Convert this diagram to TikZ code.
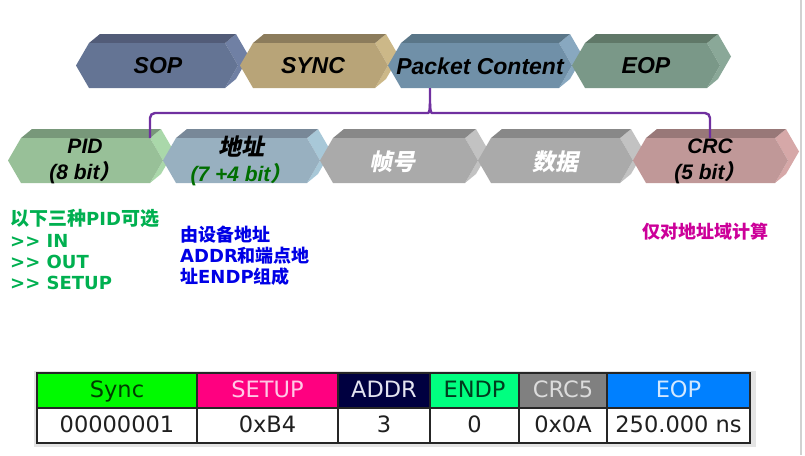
\documentclass[tikz,border=0pt]{standalone}
\usepackage{fontspec}
\setmainfont{Liberation Sans}
\newfontfamily\cjk{Noto Sans CJK SC}
\newfontfamily\cjkit{Noto Sans CJK SC}[FakeSlant=0.2]
\newfontfamily\verd{DejaVu Sans}
\usepackage{xcolor}
\usepackage{tikz}
\usetikzlibrary{calc}
% faces: frente / topo / lado
\definecolor{sopf}{RGB}{100,116,148}
\definecolor{sopt}{RGB}{82,92,120}
\definecolor{sops}{RGB}{112,128,164}
\definecolor{syncf}{RGB}{184,164,120}
\definecolor{synct}{RGB}{140,124,92}
\definecolor{syncs}{RGB}{204,184,136}
\definecolor{pktf}{RGB}{112,144,168}
\definecolor{pktt}{RGB}{90,118,136}
\definecolor{pkts}{RGB}{136,168,192}
\definecolor{eopf}{RGB}{122,152,136}
\definecolor{eopt}{RGB}{96,120,104}
\definecolor{eops}{RGB}{138,168,152}
\definecolor{pidf}{RGB}{152,192,152}
\definecolor{pidt}{RGB}{120,152,122}
\definecolor{pids}{RGB}{170,216,170}
\definecolor{addrf}{RGB}{152,176,192}
\definecolor{addrt}{RGB}{120,136,152}
\definecolor{addrs}{RGB}{168,200,216}
\definecolor{gryf}{RGB}{170,170,170}
\definecolor{gryt}{RGB}{136,136,136}
\definecolor{grys}{RGB}{194,194,194}
\definecolor{crcf}{RGB}{192,152,152}
\definecolor{crct}{RGB}{152,120,120}
\definecolor{crcs}{RGB}{214,168,168}
\definecolor{bracecol}{RGB}{112,48,160}
\definecolor{addrgreen}{RGB}{0,110,0}
\definecolor{notegreen}{RGB}{0,176,80}
\definecolor{noteblue}{RGB}{0,0,230}
\definecolor{notemag}{RGB}{204,0,153}
% tabela
\definecolor{syncbg}{RGB}{0,250,0}
\definecolor{syncfg}{RGB}{0,60,0}
\definecolor{setupbg}{RGB}{255,0,128}
\definecolor{setupfg}{RGB}{255,200,230}
\definecolor{addrbg}{RGB}{0,0,64}
\definecolor{addrfg}{RGB}{228,228,240}
\definecolor{endpbg}{RGB}{0,255,128}
\definecolor{endpfg}{RGB}{0,60,30}
\definecolor{crc5bg}{RGB}{128,128,128}
\definecolor{crc5fg}{RGB}{220,220,220}
\definecolor{eopbg}{RGB}{0,128,255}
\definecolor{eopfg}{RGB}{210,232,255}
\definecolor{valcol}{RGB}{32,32,32}
\definecolor{panel}{RGB}{228,228,228}

\begin{document}
\begin{tikzpicture}[x=1pt, y=-1pt,
    lbl/.style={font=\bfseries\itshape\fontsize{23}{26}\selectfont},
    lbls/.style={font=\bfseries\itshape\fontsize{21}{26}\selectfont, align=center},
    zh/.style={font=\cjkit\bfseries\fontsize{23}{26}\selectfont},
    note/.style={anchor=west, inner sep=0pt, font=\verd\bfseries\fontsize{18}{21}\selectfont},
    brace/.style={draw=bracecol, line width=2.4pt},
    tabline/.style={draw=black!85, line width=1.3pt},
    head/.style={font=\verd\fontsize{22.5}{24}\selectfont, text height=16pt, text depth=4pt},
    cellval/.style={font=\verd\fontsize{22.5}{24}\selectfont, text=valcol, text height=16pt, text depth=4pt}]
    \useasboundingbox (0,0) rectangle (805,455);
    \fill[black!18] (800,0) rectangle (802,455);

    % --- Blocos (prismas): frente, topo e lado ---
    \foreach \xl/\xr/\yt/\yb/\cf/\ct/\cs in {
        76/238/43/88/sopf/sopt/sops,
        240/388/43/88/syncf/synct/syncs,
        388/572/43/88/pktf/pktt/pkts,
        572/720/43/88/eopf/eopt/eops,
        8/163/138/183/pidf/pidt/pids,
        163/320/138/183/addrf/addrt/addrs,
        320/478/138/183/gryf/gryt/grys,
        478/633/138/183/gryf/gryt/grys,
        633/788/138/183/crcf/crct/crcs} {
      \pgfmathsetmacro\ym{(\yt+\yb)/2}
      \fill[\cs] (\xr-13,\yt) -- (\xr-2,\yt-9) -- (\xr+11,\ym-9) -- (\xr-2,\yb-9)
                 -- (\xr-13,\yb) -- (\xr,\ym) -- cycle;
      \fill[\ct] (\xl+13,\yt) -- (\xl+24,\yt-9) -- (\xr-2,\yt-9) -- (\xr-13,\yt) -- cycle;
      \fill[\cf] (\xl,\ym) -- (\xl+13,\yt) -- (\xr-13,\yt) -- (\xr,\ym)
                 -- (\xr-13,\yb) -- (\xl+13,\yb) -- cycle;
    }

    % --- Rotulos dos blocos ---
    \node[lbl] (sop)  at (158,66) {SOP};
    \node[lbl] (sync) at (313,66) {SYNC};
    \node[lbl] (pkt)  at (480,66) {Packet Content};
    \node[lbl] (eop)  at (646,66) {EOP};
    \node[lbls] (pid)  at (85,161) {PID\\(8 bit{\cjkit ）}};
    \node[lbls] (addr) at (241,161) {{\cjkit\fontsize{23}{26}\selectfont 地址}\\
                                    \color{addrgreen}(7 +4 bit{\cjkit ）}};
    \node[zh, text=white] (frm)  at (392,162) {帧号};
    \node[zh, text=white] (data) at (555,162) {数据};
    \node[lbls] (crc)  at (710,161) {CRC\\(5 bit{\cjkit ）}};

    % --- Chave: Packet Content -> PID ... CRC ---
    \coordinate (pktbot) at (430,88);
    \coordinate (pidtop) at (150,138);
    \coordinate (crctop) at (710,138);
    \draw[brace, rounded corners=5pt] (pidtop) |- ($(pktbot)+(-7,25)$) [sharp corners]
        .. controls ($(pktbot)+(-1,25)$) and ($(pktbot)+(0,22)$) .. ($(pktbot)+(0,15)$) -- (pktbot);
    \draw[brace, rounded corners=5pt] (crctop) |- ($(pktbot)+(7,25)$) [sharp corners]
        .. controls ($(pktbot)+(1,25)$) and ($(pktbot)+(0,22)$) .. ($(pktbot)+(0,15)$);

    % --- Notas ---
    \node[note, text=notegreen] (pidsel)   at (10,218) {{\cjk\fontsize{19}{21}\selectfont 以下三种}PID{\cjk\fontsize{19}{21}\selectfont 可选}};
    \node[note, text=notegreen] (pidin)    at (10,241) {>> IN};
    \node[note, text=notegreen] (pidout)   at (10,262) {>> OUT};
    \node[note, text=notegreen] (pidsetup) at (10,283) {>> SETUP};
    \node[note, text=noteblue] (addr1) at (180,235) {{\cjk 由设备地址}};
    \node[note, text=noteblue] (addr2) at (180,256) {ADDR{\cjk 和端点地}};
    \node[note, text=noteblue] (addr3) at (180,277) {{\cjk 址}ENDP{\cjk 组成}};
    \node[note, text=notemag] (crcnote) at (642,232) {{\cjk 仅对地址域计算}};

    % --- Tabela do pacote SETUP ---
    \fill[panel] (34,371) rectangle (756,447);
    \foreach \xa/\xb/\bg/\fg/\hd/\vl [count=\i] in {
        37/197/syncbg/syncfg/Sync/00000001,
        197/338/setupbg/setupfg/SETUP/0xB4,
        338/430/addrbg/addrfg/ADDR/3,
        430/519/endpbg/endpfg/ENDP/0,
        519/607/crc5bg/crc5fg/CRC5/0x0A,
        607/750/eopbg/eopfg/EOP/250.000 ns} {
      \fill[\bg] (\xa,373) rectangle (\xb,408);
      \fill[white] (\xa,408) rectangle (\xb,443);
      \draw[tabline] (\xa,373) rectangle (\xb,443);
      \draw[tabline] (\xa,408) -- (\xb,408);
      \node[head, text=\fg] (h\i) at ({(\xa+\xb)/2},391) {\hd};
      \node[cellval] (v\i) at ({(\xa+\xb)/2},426) {\vl};
    }
\end{tikzpicture}
\end{document}
